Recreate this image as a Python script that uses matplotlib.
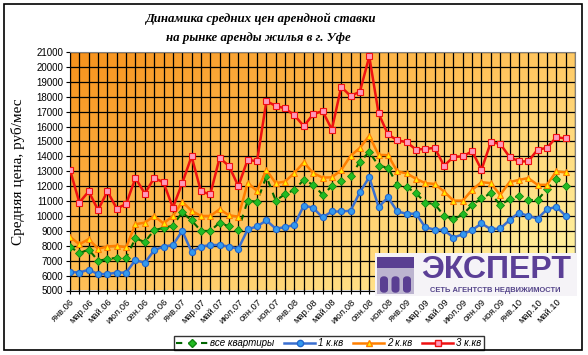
import matplotlib
matplotlib.use("Agg")
import matplotlib.pyplot as plt
import numpy as np
from matplotlib.colors import LinearSegmentedColormap
from matplotlib.patches import Rectangle, FancyBboxPatch
from matplotlib.lines import Line2D

plt.rcParams['font.family'] = ['Liberation Sans', 'DejaVu Sans']

title_lines = ["Динамика средних цен арендной ставки", "на рынке аренды жилья в г. Уфе"]
ylabel = "Средняя цена, руб/мес"
series_names = ["все квартиры", "1 к.кв", "2 к.кв", "3 к.кв"]
month_abbr = ["янв", "фев", "мар", "апр", "май", "июн", "июл", "авг", "сен", "окт", "ноя", "дек"]
years = ["06", "07", "08", "09", "10"]

all_flats = [7950, 7500, 7750, 7000, 7100, 7200, 7200, 8500, 8250, 9050, 9200, 9350,
             10250, 9700, 9000, 9000, 9550, 9300, 9050, 11030, 10950, 12650, 11030, 11470,
             11750, 12430, 12090, 11440, 11980, 12340, 12670, 13630, 14300, 13370, 13240, 12090,
             11930, 11530, 10890, 10800, 10010, 9770, 10100, 10730, 11190, 11520, 10730, 11120,
             11360, 11070, 11070, 11800, 12490, 12040]
one_room = [6250, 6200, 6400, 6100, 6100, 6200, 6200, 7050, 6850, 7700, 7950, 8050,
            9000, 7600, 7950, 8050, 8050, 7950, 7800, 9100, 9300, 9700, 9150, 9250,
            9400, 10700, 10550, 9900, 10300, 10300, 10350, 11600, 12600, 10600, 11250, 10300,
            10150, 10150, 9230, 9090, 9050, 8550, 8770, 9050, 9500, 9110, 9160, 9720,
            10220, 10000, 9830, 10440, 10620, 10010]
two_room = [8600, 8100, 8450, 7800, 7950, 8000, 7900, 9450, 9550, 10000, 9500, 10000,
            10950, 10350, 10000, 10000, 10450, 10050, 9950, 12220, 11680, 13080, 12200, 12310,
            12890, 13600, 12880, 12580, 12590, 13080, 14030, 14570, 15380, 14100, 14080, 12990,
            12860, 12490, 12200, 12150, 11640, 11030, 11030, 11750, 12270, 12200, 11410, 12270,
            12420, 12540, 12090, 12090, 12990, 12920]
three_room = [13100, 10900, 11650, 10400, 11650, 10500, 10800, 12550, 11500, 12550, 12250, 10550,
              12200, 14000, 11650, 11450, 13900, 13350, 12000, 13780, 13660, 17710, 17380, 17220,
              16750, 16030, 16820, 17040, 15800, 18660, 18050, 18340, 20700, 16880, 15470, 15080,
              14950, 14450, 14500, 14570, 13370, 13960, 14000, 14340, 13100, 14950, 14840, 13960,
              13660, 13660, 14450, 14570, 15280, 15200]

n_cat = 55  # Jan 06 .. Jul 10 category slots
cats = []
for y in years:
    for m in month_abbr:
        cats.append(f"{m}.{y}")
cats = cats[:n_cat]

W, H = 588, 355
fig = plt.figure(figsize=(W/100, H/100), dpi=100)
fig.patch.set_facecolor('white')

def fx(px):
    return px / W

def fy(py):
    return 1 - py / H

left, right, top, bottom = 70, 575, 52, 290.5
ax = fig.add_axes([fx(left), fy(bottom), fx(right - left), (bottom - top) / H])

xmax = n_cat - 1
ymin, ymax = 5000, 21000
ax.set_xlim(0, xmax)
ax.set_ylim(ymin, ymax)

# gradient background
gx = np.linspace(0, 1, 300)
gy = np.linspace(1, 0, 200)
GX, GY = np.meshgrid(gx, gy)
T = (GX * 0.55 + (1 - GY) * 0.45)
cmap = LinearSegmentedColormap.from_list("bg", [(0.0, "#F7921C"), (0.45, "#FFBF55"), (1.0, "#FFF8AA")])
ax.imshow(T, extent=[0, xmax, ymin, ymax], aspect='auto', cmap=cmap, vmin=0, vmax=1,
          origin='upper', zorder=0, interpolation='bilinear')

# grid
for i in range(n_cat):
    ax.axvline(i, color='black', lw=0.9, zorder=1)
for v in range(ymin, ymax + 1, 1000):
    ax.axhline(v, color='black', lw=0.9, zorder=1)

x = np.arange(len(one_room))
ax.plot(x, all_flats, color='#006600', lw=1.5, linestyle=(0, (3, 3)), marker='D', ms=4,
        mfc='#22BB22', mec='#118811', mew=0.6, zorder=3, label=series_names[0])
ax.plot(x, one_room, color='#3A6FD0', lw=1.8, marker='o', ms=4.5,
        mfc='#3399EE', mec='#2266CC', mew=0.8, zorder=4, label=series_names[1])
ax.plot(x, two_room, color='#FF7F00', lw=1.8, marker='^', ms=5,
        mfc='#FFEE00', mec='#FF7F00', mew=0.8, zorder=4, label=series_names[2])
ax.plot(x, three_room, color='#EE1111', lw=1.8, marker='s', ms=4.2,
        mfc='#FF99BB', mec='#EE1111', mew=0.8, zorder=5, label=series_names[3])

# axes styling
for s in ['top', 'right']:
    ax.spines[s].set_color('#808080')
    ax.spines[s].set_linewidth(0.8)
ax.spines['left'].set_color('black')
ax.spines['bottom'].set_color('black')
ax.set_yticks(range(ymin, ymax + 1, 1000))
ax.set_yticklabels([str(v) for v in range(ymin, ymax + 1, 1000)], fontsize=7)
ax.tick_params(axis='y', length=3, width=0.8, pad=2)
ax.set_xticks(range(n_cat))
xl = [cats[i] if (i % 2 == 0 and i <= 52) else '' for i in range(n_cat)]
ax.set_xticklabels(xl, fontsize=6.7, rotation=45, ha='right', va='top', rotation_mode='anchor')
ax.tick_params(axis='x', length=4, width=0.8, pad=3, direction='inout')

# title and y label
serif = ['Liberation Serif', 'DejaVu Serif']
fig.text(fx(261), fy(19), title_lines[0], ha='center', va='center',
         fontsize=9.3, family=serif, style='italic', weight='bold')
fig.text(fx(258), fy(38), title_lines[1], ha='center', va='center',
         fontsize=9.3, family=serif, style='italic', weight='bold')
fig.text(fx(18), fy(172), ylabel, rotation=90, ha='center', va='center',
         fontsize=11, family=serif)

# logo overlay
fig.patches.append(Rectangle((fx(375), fy(296)), fx(202), (296 - 253) / H, transform=fig.transFigure,
                             facecolor='#F5F3F7', edgecolor='none', zorder=10))
fig.patches.append(Rectangle((fx(377), fy(294)), fx(37), (294 - 257) / H, transform=fig.transFigure,
                             facecolor='#BDB5D0', edgecolor='none', zorder=11))
fig.patches.append(Rectangle((fx(377), fy(268)), fx(37), (268 - 257) / H, transform=fig.transFigure,
                             facecolor='#5A3F92', edgecolor='none', zorder=12))
for k in range(3):
    fig.patches.append(FancyBboxPatch((fx(380 + k * 11.5), fy(293)), fx(8), (293 - 276) / H,
                                      boxstyle="round,pad=0,rounding_size=0.01",
                                      transform=fig.transFigure, facecolor='#5A3F92',
                                      edgecolor='none', zorder=12))
fig.text(fx(496), fy(270), "ЭКСПЕРТ", ha='center', va='center', fontsize=23, weight='bold',
         color='#5B3F96', zorder=13)
fig.text(fx(495), fy(290), "СЕТЬ АГЕНТСТВ НЕДВИЖИМОСТИ", ha='center', va='center', fontsize=5.4,
         weight='bold', color='#55458A', zorder=13)

# legend
handles = [
    Line2D([], [], color='#006600', lw=1.5, linestyle=(0, (3, 3)), marker='D', ms=4,
           mfc='#22BB22', mec='#118811'),
    Line2D([], [], color='#3A6FD0', lw=1.8, marker='o', ms=4.5, mfc='#3399EE', mec='#2266CC'),
    Line2D([], [], color='#FF7F00', lw=1.8, marker='^', ms=5, mfc='#FFEE00', mec='#FF7F00'),
    Line2D([], [], color='#EE1111', lw=1.8, marker='s', ms=4.2, mfc='#FF99BB', mec='#EE1111'),
]
leg = fig.legend(handles, series_names, loc='center', bbox_to_anchor=(fx(329), fy(343)),
                 ncol=4, frameon=True, fancybox=False, edgecolor='black',
                 handlelength=3.2, handletextpad=0.3, columnspacing=1.0, borderpad=0.25,
                 prop={'style': 'italic', 'size': 7})
leg.get_frame().set_linewidth(1.0)

# outer border
fig.patches.append(Rectangle((fx(4), fy(350)), fx(578), (350 - 4) / H, transform=fig.transFigure,
                             facecolor='none', edgecolor='black', lw=1.2, zorder=20))

fig.savefig("out.png", dpi=100)
